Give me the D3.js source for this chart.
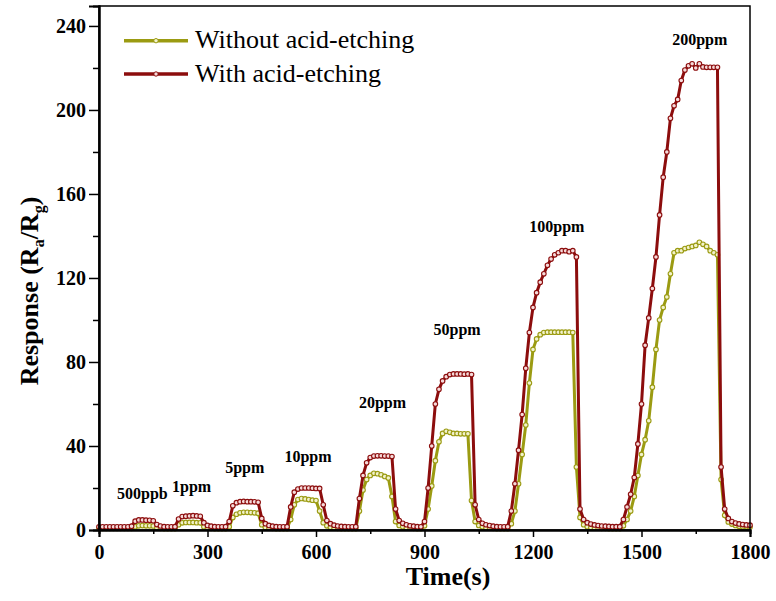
<!DOCTYPE html>
<html>
<head>
<meta charset="utf-8">
<script src="https://cdn.jsdelivr.net/npm/d3@7"></script>
<style>
  body { margin: 0; background: #fff; }
  svg text { font-family: 'Liberation Serif', 'DejaVu Serif', serif; }
</style>
</head>
<body>
<div id="chart"></div>
<script>
const seriesNames = ['Without acid-etching', 'With acid-etching']
const seriesColors = ['#9b9b12', '#8c0d0d']
const markerFills = ['#f2f2cc', '#f6dada']
const serif = "'Liberation Serif', 'DejaVu Serif', serif"

// one reading every 10 s, 0 .. 1800 s (one row = 100 s)
const sampleStep = 10
const withoutEtching = [
  0.8, 0.8, 0.8, 0.8, 0.8, 0.8, 0.8, 0.8, 0.8, 0.8,
  1.6, 2.0, 2.1, 2.0, 2.0, 1.9, 1.0, 0.8, 0.7, 0.7,
  0.7, 0.7, 2.5, 3.4, 3.6, 3.6, 3.6, 3.5, 3.4, 1.6,
  1.0, 0.8, 0.7, 0.7, 0.7, 0.7, 1.5, 6, 7.5, 8.2,
  8.4, 8.4, 8.3, 8.2, 8.0, 2.5, 1.2, 0.9, 0.8, 0.7,
  0.7, 0.7, 0.7, 5, 12, 14.5, 15, 14.8, 14.5, 14.2,
  14, 9, 3.5, 2.0, 1.3, 1.0, 0.8, 0.7, 0.7, 0.7,
  0.7, 0.7, 9, 19, 24, 26, 27, 26.8, 26.3, 25.5,
  24.8, 16, 4, 2.2, 1.5, 1.1, 0.9, 0.8, 0.7, 0.7,
  2, 10, 21, 33, 42, 46, 47, 46.5, 46, 46,
  45.8, 45.8, 45.8, 14, 4, 2.2, 1.5, 1.1, 0.9, 0.8,
  0.7, 0.7, 0.7, 0.7, 3, 9, 22, 36, 50, 70,
  86, 91, 93, 94, 94.2, 94.2, 94.2, 94.2, 94.2, 94.2,
  94.2, 94, 30, 6, 2.5, 1.6, 1.2, 1.0, 0.9, 0.8,
  0.8, 0.7, 0.7, 0.7, 0.7, 2, 5, 9, 16, 26,
  36, 43, 52, 68, 86, 100, 106, 111, 122, 132,
  133, 133, 134, 134.5, 135, 135.5, 137, 136, 135, 133,
  132, 131, 24, 7, 3.8, 2.8, 2.2, 1.8, 1.6, 1.5,
  1.4
]
const withEtching = [
  1.5, 1.5, 1.5, 1.5, 1.5, 1.5, 1.5, 1.5, 1.5, 1.8,
  4.2, 4.8, 4.8, 4.7, 4.6, 4.4, 2.6, 1.9, 1.6, 1.5,
  1.5, 1.6, 5.2, 6.4, 6.6, 6.7, 6.8, 6.7, 6.5, 3.5,
  2.2, 1.8, 1.6, 1.5, 1.5, 1.6, 4.0, 11.5, 13.0, 13.5,
  13.6, 13.5, 13.5, 13.4, 13.2, 5.5, 3.0, 2.2, 1.8, 1.6,
  1.5, 1.5, 1.6, 11, 18, 19.5, 20, 20, 20, 19.9,
  19.8, 19.8, 12, 4.5, 3.0, 2.3, 1.9, 1.7, 1.6, 1.5,
  1.5, 1.6, 15, 26, 32, 34.5, 35.2, 35.3, 35.3, 35.2,
  35.2, 35.0, 10, 4.5, 3.2, 2.5, 2.0, 1.8, 1.6, 1.5,
  4, 20, 40, 60, 67, 71, 73, 74, 74.3, 74.3,
  74.3, 74.2, 74.3, 74, 12, 5, 3.2, 2.5, 2.1, 1.8,
  1.6, 1.5, 1.5, 1.6, 9, 22, 38, 55, 77, 94,
  106, 113, 118, 122, 126, 129, 131, 132, 133, 133,
  132.5, 133, 130, 10, 5, 3.5, 2.8, 2.4, 2.1, 1.9,
  1.8, 1.7, 1.6, 1.6, 1.6, 5, 11, 17, 25, 41,
  60, 88, 101, 115, 130, 150, 168, 180, 196, 202,
  205, 214, 219, 221, 222, 220, 222, 220.5, 220.3, 220.3,
  220.3, 220.3, 30, 10, 5.5, 4, 3.3, 2.9, 2.6, 2.4,
  2.3
]

const doseLabels = ['500ppb', '1ppm', '5ppm', '10ppm', '20ppm', '50ppm', '100ppm', '200ppm']
const doseTimes = [120, 256, 403, 578, 784, 990, 1266, 1661]
const doseLevels = [14.8, 18.2, 27, 32.5, 58, 92.9, 142, 231]

const xTicks = [0, 300, 600, 900, 1200, 1500, 1800]
const xMinorTicks = [150, 450, 750, 1050, 1350, 1650]
const yTicks = [0, 40, 80, 120, 160, 200, 240]
const yMinorTicks = [20, 60, 100, 140, 180, 220]

const margin = { top: 6, left: 99, right: 26, bottom: 71 }
const width = 776 - margin.left - margin.right
const height = 601 - margin.top - margin.bottom

const svg = d3
  .select('#chart')
  .append('svg')
  .attr('width', width + margin.left + margin.right)
  .attr('height', height + margin.top + margin.bottom)
  .append('g')
  .attr('transform', 'translate(' + margin.left + ',' + margin.top + ')')

const xScale = d3.scaleLinear().domain([0, 1800]).range([0, width])
const yScale = d3.scaleLinear().domain([0, 249.5]).range([height, 0])

const series = [withoutEtching, withEtching].map((values, i) => ({
  name: seriesNames[i],
  color: seriesColors[i],
  fill: markerFills[i],
  points: values.map((v, j) => ({ t: j * sampleStep, v: v }))
}))

const line = d3
  .line()
  .x(d => xScale(d.t))
  .y(d => yScale(d.v))

// curves: olive first, dark red on top
series.forEach(s => {
  const g = svg.append('g')
  g.append('path')
    .datum(s.points)
    .attr('d', line)
    .attr('fill', 'none')
    .attr('stroke', s.color)
    .attr('stroke-width', 3)
    .attr('stroke-linejoin', 'round')
  g.selectAll('circle')
    .data(s.points)
    .enter()
    .append('circle')
    .attr('cx', d => xScale(d.t))
    .attr('cy', d => yScale(d.v))
    .attr('r', 2.3)
    .attr('fill', s.fill)
    .attr('stroke', s.color)
    .attr('stroke-width', 1.1)
})

// frame
svg
  .append('rect')
  .attr('width', width)
  .attr('height', height)
  .attr('fill', 'none')
  .attr('stroke', '#000')
  .attr('stroke-width', 1.5)

svg
  .append('g')
  .attr('transform', 'translate(0,' + height + ')')
  .call(d3.axisBottom(xScale).tickValues(xTicks).tickFormat(d3.format('d')).tickSize(7).tickPadding(8))
svg
  .append('g')
  .attr('transform', 'translate(0,' + height + ')')
  .call(d3.axisBottom(xScale).tickValues(xMinorTicks).tickSize(4).tickFormat(''))

svg
  .append('g')
  .call(d3.axisLeft(yScale).tickValues(yTicks).tickFormat(d3.format('d')).tickSize(10).tickPadding(3))
svg
  .append('g')
  .call(d3.axisLeft(yScale).tickValues(yMinorTicks).tickSize(6).tickFormat(''))

svg.selectAll('.domain').attr('stroke', '#000').attr('stroke-width', 2)
svg.selectAll('.tick line').attr('stroke', '#000').attr('stroke-width', 1.5)
svg
  .selectAll('.tick text')
  .attr('font-family', serif)
  .style('font-size', '20px')
  .style('font-weight', 'bold')
  .attr('fill', '#000')

// axis titles
svg
  .append('text')
  .text('Time(s)')
  .attr('x', 448 - margin.left)
  .attr('y', height + 55)
  .attr('text-anchor', 'middle')
  .attr('font-family', serif)
  .style('font-size', '26px')
  .style('font-weight', 'bold')

const yTitle = svg
  .append('text')
  .attr('transform', 'rotate(-90)')
  .attr('x', -(291 - margin.top))
  .attr('y', 38 - margin.left)
  .attr('text-anchor', 'middle')
  .attr('font-family', serif)
  .style('font-size', '26px')
  .style('font-weight', 'bold')
yTitle.append('tspan').text('Response (R')
yTitle.append('tspan').text('a').attr('dy', 6).style('font-size', '16px')
yTitle.append('tspan').text('/R').attr('dy', -6)
yTitle.append('tspan').text('g').attr('dy', 6).style('font-size', '16px')
yTitle.append('tspan').text(')').attr('dy', -6)

// concentration labels
svg
  .selectAll('.dose')
  .data(doseLabels)
  .enter()
  .append('text')
  .attr('class', 'dose')
  .text(d => d)
  .attr('x', (d, i) => xScale(doseTimes[i]))
  .attr('y', (d, i) => yScale(doseLevels[i]))
  .attr('text-anchor', 'middle')
  .attr('font-family', serif)
  .style('font-size', '16px')
  .style('font-weight', 'bold')

// legend
const legend = svg
  .selectAll('.legend')
  .data(series)
  .enter()
  .append('g')
  .attr('class', 'legend')
  .attr('transform', (d, i) => 'translate(' + (124 - margin.left) + ',' + (40.7 + i * 33.3 - margin.top) + ')')

legend
  .append('line')
  .attr('x1', 0)
  .attr('x2', 64)
  .attr('stroke', d => d.color)
  .attr('stroke-width', 3.5)
legend
  .append('circle')
  .attr('cx', 32)
  .attr('r', 2.2)
  .attr('fill', d => d.fill)
  .attr('stroke', d => d.color)
  .attr('stroke-width', 1)
legend
  .append('text')
  .text(d => d.name)
  .attr('x', 71)
  .attr('y', 7.6)
  .attr('font-family', serif)
  .style('font-size', '26px')
</script>
</body>
</html>
